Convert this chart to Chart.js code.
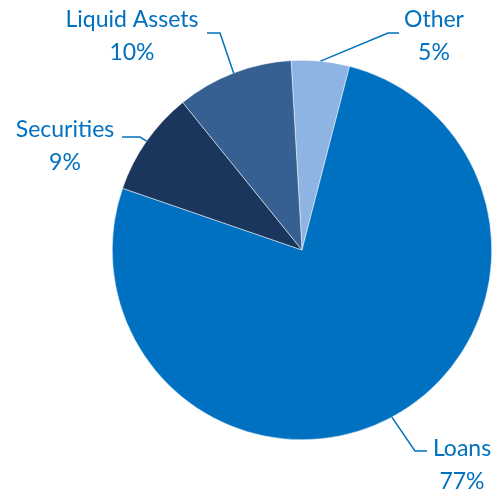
<!DOCTYPE html>
<html>
<head>
<meta charset="utf-8">
<script src="https://cdn.jsdelivr.net/npm/chart.js@4.4.0/dist/chart.umd.min.js"></script>
<style>
  html, body { margin: 0; padding: 0; background: #fff; }
  #wrap { width: 496px; height: 490px; }
</style>
</head>
<body>
<div id="wrap"><canvas id="assetChart" width="496" height="490"></canvas></div>
<script>
// asset mix, clockwise from the top
const categories = ['Other', 'Loans', 'Securities', 'Liquid Assets'];
const shares = [5, 77, 9, 10];
const sliceColors = ['#8EB4E3', '#0070C0', '#1A365D', '#376092'];

// where each label sits and how its leader line bends
const labelSpots = [
  { x: 434, y: 20, elbow: [388, 33], end: [399, 33] },
  { x: 462, y: 449, elbow: [415, 451], end: [427, 451] },
  { x: 65, y: 130, elbow: [140, 137], end: [122, 137] },
  { x: 132, y: 20, elbow: [220, 33], end: [207, 33] }
];

const labelColor = '#0070C0';

const calloutPlugin = {
  id: 'callouts',
  afterDatasetsDraw(chart) {
    const ctx = chart.ctx;
    const arcs = chart.getDatasetMeta(0).data;
    ctx.save();
    ctx.strokeStyle = labelColor;
    ctx.lineWidth = 1.5;
    ctx.fillStyle = labelColor;
    ctx.font = '23px Lato';
    ctx.textAlign = 'center';
    ctx.textBaseline = 'middle';
    arcs.forEach((arc, i) => {
      const p = arc.getProps(['x', 'y', 'startAngle', 'endAngle', 'outerRadius'], true);
      const mid = (p.startAngle + p.endAngle) / 2;
      const sx = p.x + Math.cos(mid) * p.outerRadius;
      const sy = p.y + Math.sin(mid) * p.outerRadius;
      const spot = labelSpots[i];
      ctx.beginPath();
      ctx.moveTo(sx, sy);
      ctx.lineTo(spot.elbow[0], spot.elbow[1]);
      ctx.lineTo(spot.end[0], spot.end[1]);
      ctx.stroke();
      ctx.fillText(categories[i], spot.x, spot.y);
      ctx.fillText(shares[i] + '%', spot.x, spot.y + 33);
    });
    ctx.restore();
  }
};

new Chart(document.getElementById('assetChart'), {
  type: 'pie',
  data: {
    labels: categories,
    datasets: [{
      data: shares,
      backgroundColor: sliceColors,
      borderColor: '#ffffff',
      borderWidth: 0.5
    }]
  },
  options: {
    responsive: false,
    animation: false,
    rotation: -3.3,
    layout: { padding: { left: 112, right: 4, top: 60, bottom: 50 } },
    plugins: {
      legend: { display: false },
      tooltip: { enabled: false }
    }
  },
  plugins: [calloutPlugin]
});
</script>
</body>
</html>
